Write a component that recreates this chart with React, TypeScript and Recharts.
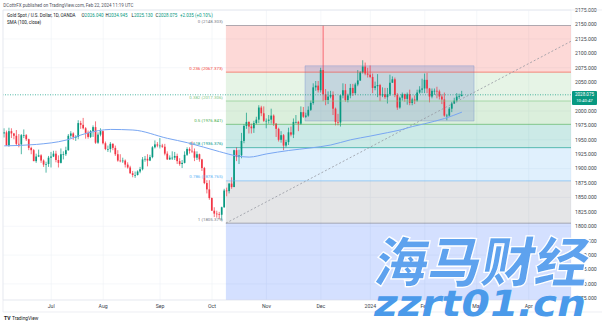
import React from 'react';
import {
  ComposedChart,
  Bar,
  Line,
  XAxis,
  YAxis,
  CartesianGrid,
  ReferenceArea,
  ReferenceLine,
} from 'recharts';

// ---- Daily XAUUSD candles [open, high, low, close] (first visible bar = 6 Jun 2023) ----
const JUN_2023 = [
  [1961, 1970, 1954, 1963], [1963, 1966, 1940, 1940], [1940, 1971, 1938, 1965], [1965, 1970, 1953, 1961],
  [1961, 1962, 1951, 1957], [1957, 1967, 1940, 1943], [1943, 1960, 1937, 1942], [1942, 1960, 1925, 1958],
  [1958, 1968, 1953, 1958], [1958, 1960, 1948, 1951], [1951, 1952, 1932, 1936], [1936, 1938, 1925, 1932],
  [1932, 1934, 1913, 1913], [1913, 1926, 1910, 1921], [1921, 1933, 1920, 1923], [1923, 1925, 1910, 1914],
  [1914, 1916, 1903, 1907], [1907, 1912, 1893, 1908], [1908, 1922, 1903, 1919],
];
const JUL_2023 = [
  [1919, 1929, 1902, 1921], [1921, 1931, 1920, 1926], [1926, 1931, 1911, 1915], [1915, 1923, 1902, 1910],
  [1910, 1935, 1909, 1925], [1925, 1930, 1916, 1925], [1925, 1938, 1922, 1932], [1932, 1960, 1931, 1957],
  [1957, 1965, 1953, 1961], [1961, 1963, 1950, 1955], [1955, 1958, 1948, 1955], [1955, 1984, 1951, 1979],
  [1979, 1983, 1969, 1976], [1976, 1988, 1968, 1970], [1970, 1972, 1952, 1962], [1962, 1966, 1952, 1955],
  [1955, 1967, 1953, 1965], [1965, 1975, 1955, 1972], [1972, 1982, 1943, 1945], [1945, 1963, 1943, 1959],
  [1959, 1970, 1956, 1965],
];
const AUG_2023 = [
  [1965, 1966, 1942, 1944], [1944, 1947, 1932, 1934], [1934, 1940, 1929, 1934], [1934, 1946, 1928, 1943],
  [1943, 1944, 1932, 1936], [1936, 1940, 1922, 1925], [1925, 1932, 1912, 1914], [1914, 1925, 1911, 1913],
  [1913, 1919, 1910, 1914], [1914, 1916, 1902, 1907], [1907, 1911, 1900, 1902], [1902, 1905, 1891, 1892],
  [1892, 1896, 1885, 1889], [1889, 1895, 1884, 1889], [1889, 1897, 1888, 1895], [1895, 1903, 1892, 1899],
  [1899, 1920, 1897, 1916], [1916, 1922, 1912, 1917], [1917, 1925, 1904, 1914], [1914, 1924, 1913, 1920],
  [1920, 1939, 1918, 1937], [1937, 1949, 1935, 1942], [1942, 1946, 1937, 1940],
];
const SEP_2023 = [
  [1940, 1953, 1935, 1940], [1940, 1943, 1936, 1938], [1938, 1943, 1923, 1926], [1926, 1930, 1915, 1916],
  [1916, 1923, 1915, 1919], [1919, 1930, 1915, 1919], [1919, 1929, 1915, 1922], [1922, 1926, 1908, 1913],
  [1913, 1918, 1905, 1908], [1908, 1915, 1901, 1910], [1910, 1930, 1909, 1924], [1924, 1937, 1922, 1934],
  [1934, 1937, 1926, 1931], [1931, 1947, 1927, 1930], [1930, 1935, 1913, 1919], [1919, 1930, 1915, 1925],
  [1925, 1926, 1912, 1916], [1916, 1917, 1896, 1901], [1901, 1903, 1873, 1875], [1875, 1880, 1857, 1864],
  [1864, 1880, 1846, 1849],
];
const OCT_2023 = [
  [1849, 1850, 1827, 1827], [1827, 1833, 1816, 1822], [1822, 1827, 1815, 1821], [1821, 1825, 1813, 1820],
  [1820, 1834, 1810, 1833], [1833, 1865, 1832, 1862], [1862, 1867, 1852, 1861], [1861, 1875, 1857, 1874],
  [1874, 1885, 1865, 1868], [1868, 1933, 1868, 1932], [1932, 1937, 1913, 1920], [1920, 1933, 1908, 1923],
  [1923, 1962, 1918, 1948], [1948, 1977, 1944, 1974], [1974, 1997, 1969, 1981], [1981, 1982, 1961, 1973],
  [1973, 1978, 1961, 1970], [1970, 1983, 1962, 1979], [1979, 1990, 1977, 1985], [1985, 2010, 1979, 2006],
  [2006, 2009, 1991, 1996], [1996, 2008, 1981, 1983],
];
const NOV_2023 = [
  [1983, 1987, 1970, 1983], [1983, 1993, 1978, 1985], [1985, 2004, 1978, 1992], [1992, 1994, 1974, 1978],
  [1978, 1979, 1955, 1969], [1969, 1971, 1947, 1950], [1950, 1965, 1945, 1958], [1958, 1960, 1932, 1940],
  [1940, 1950, 1937, 1946], [1946, 1971, 1941, 1963], [1963, 1973, 1956, 1959], [1959, 1987, 1953, 1981],
  [1981, 1993, 1978, 1981], [1981, 1983, 1965, 1978], [1978, 2008, 1976, 1998], [1998, 2007, 1988, 1990],
  [1990, 1997, 1988, 1992], [1992, 2008, 1990, 2002], [2002, 2018, 2000, 2014], [2014, 2048, 2011, 2041],
  [2041, 2052, 2035, 2044], [2044, 2052, 2032, 2036],
];
const DEC_2023 = [
  [2036, 2075, 2032, 2071], [2071, 2148, 2017, 2029], [2029, 2038, 2010, 2019], [2019, 2034, 2012, 2025],
  [2025, 2035, 2022, 2028], [2028, 2034, 1993, 2004], [2004, 2006, 1975, 1981], [1981, 1995, 1975, 1980],
  [1980, 2028, 1973, 2027], [2027, 2048, 2022, 2036], [2036, 2047, 2016, 2019], [2019, 2030, 2015, 2027],
  [2027, 2047, 2022, 2040], [2040, 2047, 2026, 2031], [2031, 2049, 2028, 2046], [2046, 2071, 2043, 2053],
  [2053, 2069, 2052, 2067], [2067, 2088, 2065, 2077], [2077, 2084, 2062, 2065], [2065, 2075, 2058, 2063],
];
const JAN_2024 = [
  [2063, 2079, 2057, 2059], [2059, 2065, 2031, 2040], [2040, 2051, 2036, 2043], [2043, 2064, 2024, 2045],
  [2045, 2047, 2017, 2027], [2027, 2041, 2024, 2029], [2029, 2040, 2021, 2024], [2024, 2040, 2013, 2029],
  [2029, 2063, 2026, 2049], [2049, 2060, 2049, 2055], [2055, 2058, 2024, 2028], [2028, 2031, 2002, 2006],
  [2006, 2025, 2004, 2023], [2023, 2032, 2018, 2029], [2029, 2030, 2016, 2021], [2021, 2032, 2011, 2029],
  [2029, 2037, 2010, 2014], [2014, 2023, 2010, 2020], [2020, 2027, 2012, 2018], [2018, 2037, 2016, 2032],
  [2032, 2043, 2030, 2037], [2037, 2056, 2031, 2039],
];
const FEB_2024 = [
  [2039, 2065, 2031, 2054], [2054, 2066, 2031, 2039], [2039, 2040, 2015, 2025], [2025, 2039, 2022, 2035],
  [2035, 2039, 2028, 2035], [2035, 2042, 2022, 2034], [2034, 2037, 2020, 2025], [2025, 2029, 2012, 2020],
  [2020, 2032, 1990, 1992], [1992, 1995, 1984, 1992], [1992, 2007, 1990, 2004], [2004, 2016, 1998, 2013],
  [2013, 2023, 2012, 2018], [2018, 2031, 2015, 2025], [2025, 2030, 2021, 2026.04], [2026.04, 2034.945, 2025.13, 2028.075],
];

// SMA(100, close) readings: [bar index, value]
const SMA_100: [number, number][] = [
  [0, 1939.5], [13, 1942], [25, 1949.5], [33, 1961], [43, 1968], [52, 1967], [66, 1952.5], [74, 1945],
  [87, 1929.5], [94, 1922], [99, 1920], [106, 1925.5], [115, 1931.5], [124, 1936], [132, 1941], [140, 1950],
  [148, 1956.5], [155, 1962.5], [160, 1967], [165, 1973], [170, 1978], [178, 1987], [185, 1998],
];

// time axis (bar index of first session of each month; Mar/Apr are future slots)
const MONTH_TICKS = [19, 40, 63, 84, 106, 128, 148, 170, 191, 212];
const MONTH_LABELS = ['Jul', 'Aug', 'Sep', 'Oct', 'Nov', 'Dec', '2024', 'Feb', 'Mar', 'Apr'];
const X_DOMAIN: [number, number] = [-0.5, 229.1];

// price axis (2025 is hidden behind the last-price tag)
const PRICE_TICKS = [1675, 1700, 1725, 1750, 1775, 1800, 1825, 1850, 1875, 1900, 1925, 1950, 1975, 2000, 2050, 2075, 2100, 2125, 2150, 2175];
const Y_DOMAIN: [number, number] = [1672.1, 2175.2];

// Fibonacci retracement (anchors in bar index / price)
const FIB_START_X = 89.6;
const FIB_END_X = 241.2;
const FIB_LEVELS = ['0', '0.236', '0.382', '0.5', '0.618', '0.786', '1', '1.618'];
const FIB_PRICES = [2148.303, 2067.373, 2017.306, 1976.841, 1936.376, 1878.765, 1805.379, 1593.452];
const FIB_COLORS = ['#787b86', '#f44336', '#81c784', '#4caf50', '#009688', '#64b5f6', '#787b86', '#2962ff'];

// rectangle drawing
const BOX = { x1: 121.6, x2: 189.9, y1: 1982.7, y2: 2078.3 };

const LAST = { o: '2026.040', h: '2034.945', l: '2025.130', c: '2028.075', chg: '+2.035 (+0.10%)', value: 2028.075, timer: '10:40:47' };

const UP = '#089981';
const DOWN = '#f23645';
const FONT = "Roboto, 'Liberation Sans', Arial, sans-serif";

type Row = { i: number; o: number; h: number; l: number; c: number; range: [number, number]; sma?: number };

const MONTHS = [JUN_2023, JUL_2023, AUG_2023, SEP_2023, OCT_2023, NOV_2023, DEC_2023, JAN_2024, FEB_2024];
const rows: Row[] = [];
MONTHS.forEach((m) =>
  m.forEach(([o, h, l, c]) => rows.push({ i: rows.length, o, h, l, c, range: [l, h] }))
);
SMA_100.forEach(([i, v]) => {
  if (rows[i]) rows[i].sma = v;
});

const Candle = (props: any) => {
  const { x, y, width, height, payload } = props;
  if (!payload || payload.h == null) return null;
  const { o, h, l, c } = payload;
  const top = Math.min(y, y + height);
  const bottom = Math.max(y, y + height);
  const k = (bottom - top) / (h - l || 1);
  const yO = top + (h - o) * k;
  const yC = top + (h - c) * k;
  const color = c >= o ? UP : DOWN;
  const cx = x + width / 2;
  const bt = Math.min(yO, yC);
  const bh = Math.max(Math.abs(yC - yO), 0.7);
  return (
    <g>
      <line x1={cx} x2={cx} y1={top} y2={bottom} stroke={color} strokeWidth={0.7} />
      <rect x={cx - 0.85} y={bt} width={1.7} height={bh} fill={color} />
    </g>
  );
};

const fibLabel = (text: string, color: string) => (p: any) => {
  const vb = p.viewBox || {};
  return (
    <text x={vb.x - 3} y={vb.y - 2.4} textAnchor="end" fontSize={4.4} fill={color} fontFamily={FONT}>
      {text}
    </text>
  );
};

const PriceTag = (p: any) => {
  const vb = p.viewBox || {};
  const x = vb.x + vb.width + 1;
  const y = vb.y;
  return (
    <g>
      <rect x={x} y={y - 3.8} width={25} height={14} fill={UP} rx={1} />
      <text x={x + 12.5} y={y + 1.6} textAnchor="middle" fontSize={4.5} fill="#ffffff" fontFamily={FONT}>
        {LAST.c}
      </text>
      <text x={x + 12.5} y={y + 7.2} textAnchor="middle" fontSize={4.3} fill="#ffffff" fontFamily={FONT}>
        {LAST.timer}
      </text>
    </g>
  );
};

export default function App() {
  return (
    <div style={{ position: 'absolute', left: 0, top: 0, width: 602, height: 325, background: '#ffffff', overflow: 'hidden' }}>
      <ComposedChart width={602} height={325} data={rows} margin={{ top: 10, right: 0, bottom: 13, left: 3 }}>
        <CartesianGrid stroke="#eef1f6" strokeWidth={0.6} />
        {FIB_PRICES.slice(1).map((p, k) => (
          <ReferenceArea
            key={'z' + k}
            x1={FIB_START_X}
            x2={FIB_END_X}
            y1={p}
            y2={FIB_PRICES[k]}
            fill={FIB_COLORS[k + 1]}
            fillOpacity={0.2}
            stroke="none"
            ifOverflow="hidden"
          />
        ))}
        <ReferenceArea
          x1={BOX.x1}
          x2={BOX.x2}
          y1={BOX.y1}
          y2={BOX.y2}
          fill="#7891cd"
          fillOpacity={0.3}
          stroke="#7891cd"
          strokeOpacity={0.5}
          strokeWidth={0.8}
          ifOverflow="hidden"
        />
        <XAxis
          dataKey="i"
          type="number"
          domain={X_DOMAIN}
          allowDataOverflow
          ticks={MONTH_TICKS}
          tickFormatter={(v: number) => MONTH_LABELS[MONTH_TICKS.indexOf(v)] ?? ''}
          height={12}
          tickSize={0}
          tickMargin={4}
          tick={{ fontSize: 5.2, fill: '#3b3f4a', fontFamily: FONT }}
          axisLine={{ stroke: '#e0e3eb', strokeWidth: 0.6 }}
        />
        <YAxis
          orientation="right"
          type="number"
          domain={Y_DOMAIN}
          allowDataOverflow
          ticks={PRICE_TICKS}
          tickFormatter={(v: number) => v.toFixed(3)}
          width={31}
          tickSize={0}
          tickMargin={4}
          tick={{ fontSize: 5.2, fill: '#3b3f4a', fontFamily: FONT, textAnchor: 'start' }}
          axisLine={false}
        />
        {FIB_PRICES.slice(0, 7).map((p, k) => (
          <ReferenceLine
            key={'l' + k}
            segment={[{ x: FIB_START_X, y: p }, { x: FIB_END_X, y: p }]}
            stroke={FIB_COLORS[k]}
            strokeOpacity={0.75}
            strokeWidth={0.8}
            ifOverflow="hidden"
            label={fibLabel(`${FIB_LEVELS[k]} (${p.toFixed(3)})`, FIB_COLORS[k])}
          />
        ))}
        <ReferenceLine
          segment={[{ x: FIB_START_X, y: FIB_PRICES[6] }, { x: FIB_END_X, y: FIB_PRICES[0] }]}
          stroke="#9598a1"
          strokeWidth={0.8}
          strokeDasharray="2 2"
          ifOverflow="hidden"
        />
        <Bar dataKey="range" shape={Candle} barSize={2} isAnimationActive={false} />
        <Line
          dataKey="sma"
          type="monotone"
          connectNulls
          dot={false}
          stroke="#78a6f2"
          strokeWidth={1}
          isAnimationActive={false}
        />
        <ReferenceLine y={LAST.value} stroke={UP} strokeWidth={0.7} strokeDasharray="1 1.5" label={PriceTag} />
      </ComposedChart>

      <svg width={602} height={325} style={{ position: 'absolute', left: 0, top: 0, pointerEvents: 'none' }}>
        <line x1={3} x2={602} y1={10} y2={10} stroke="#e0e3eb" strokeWidth={0.6} />
        <line x1={3} x2={3} y1={10} y2={312} stroke="#e0e3eb" strokeWidth={0.6} />
        <line x1={3} x2={602} y1={312} y2={312} stroke="#e0e3eb" strokeWidth={0.6} />
        <text x={3.3} y={7.3} fontSize={4.5} fill="#50535e" fontFamily={FONT}>
          DCottrFX published on TradingView.com, Feb 22, 2024 11:19 UTC
        </text>
        <text y={17.3} fontSize={4.5} fill="#131722" fontFamily={FONT}>
          <tspan x={7}>Gold Spot / U.S. Dollar, 1D, OANDA</tspan>
          <tspan x={81.5}>O</tspan>
          <tspan fill={UP}>{LAST.o}</tspan>
          <tspan x={105.5}>H</tspan>
          <tspan fill={UP}>{LAST.h}</tspan>
          <tspan x={131.5}>L</tspan>
          <tspan fill={UP}>{LAST.l}</tspan>
          <tspan x={155.5}>C</tspan>
          <tspan fill={UP}>{LAST.c}</tspan>
          <tspan x={180} fill={UP}>{LAST.chg}</tspan>
        </text>
        <text x={7} y={24.3} fontSize={4.5} fill="#131722" fontFamily={FONT}>
          SMA (100, close)
        </text>
        <text x={4} y={320.3} fontSize={5} fontWeight={700} fill="#131722" fontFamily={FONT}>
          TV
        </text>
        <text x={12} y={320.3} fontSize={4.8} fill="#131722" fontFamily={FONT}>
          TradingView
        </text>
        <g transform="translate(372,282) skewX(-10)">
          <text
            x={0}
            y={0}
            fontSize={54}
            fontWeight={900}
            fontFamily="'Noto Sans CJK SC', sans-serif"
            fill="#5ea2ee"
            stroke="#ffffff"
            strokeWidth={1.3}
            textLength={214}
            lengthAdjust="spacingAndGlyphs"
          >
            海马财经
          </text>
        </g>
        <g transform="translate(372,316) skewX(-12)">
          <text
            x={0}
            y={0}
            fontSize={36}
            fontWeight={700}
            fontFamily="'DejaVu Sans', sans-serif"
            fill="#4a9aea"
            textLength={212}
            lengthAdjust="spacingAndGlyphs"
          >
            zzrt01.cn
          </text>
        </g>
      </svg>
    </div>
  );
}
